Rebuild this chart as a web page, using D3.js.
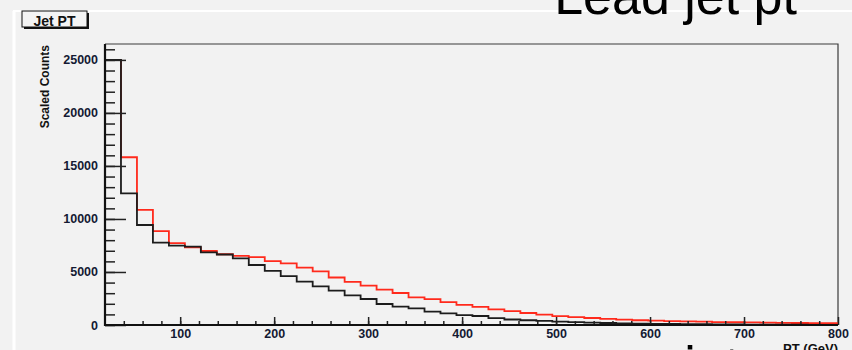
<!DOCTYPE html>
<html>
<head>
<meta charset="utf-8">
<script src="https://cdn.jsdelivr.net/npm/d3@7/dist/d3.min.js"></script>
<style>
  html, body { margin: 0; padding: 0; background: #f2f2f2; }
  svg { display: block; }
  text { font-family: "Liberation Sans", Arial, Helvetica, sans-serif; }
</style>
</head>
<body>
<svg id="chart" width="852" height="350"></svg>
<script>
// Histogram binning (GeV): fixed-width bins starting at the low edge
const binLow = 20;
const binWidth = 17;

// Jet pT histograms, scaled counts per bin
const blackCounts = [
  25000, 12420, 9430, 7770, 7480, 7400, 6850, 6650, 6290, 5660,
  5110, 4600, 4100, 3650, 3240, 2800, 2450, 1980, 1730, 1570,
  1260, 1100, 940, 850, 650, 520, 450, 380, 320, 270,
  230, 190, 160, 130, 110, 95, 80, 70, 60, 50,
  40, 35, 30, 25, 20, 20
];
const redCounts = [
  25000, 15820, 10850, 8850, 7720, 7320, 6980, 6670, 6510, 6400,
  6020, 5820, 5410, 5050, 4480, 4070, 3720, 3340, 3020, 2610,
  2440, 2150, 1890, 1700, 1480, 1300, 1130, 970, 830, 750,
  660, 570, 500, 450, 410, 370, 340, 310, 280, 260,
  240, 220, 200, 190, 180, 170
];

const xMajorTicks = [100, 200, 300, 400, 500, 600, 700, 800];
const yMajorTicks = [0, 5000, 10000, 15000, 20000, 25000];
const xRange = [20, 800];
const yRange = [0, 26500];

const titleText = "Jet PT";
const yTitle = "Scaled Counts";
const xTitle = "PT (GeV)";
const slideTitle = "Lead jet pt";
const slideTitleBelow = "jet pt";

const svg = d3.select("#chart");
const W = 852, H = 350;
const frame = { left: 105, right: 838, top: 44, bottom: 325 };

// canvas background with light bevel lines
svg.append("rect").attr("width", W).attr("height", H).attr("fill", "#f2f2f2");
svg.append("line").attr("x1", 13).attr("x2", W).attr("y1", 11).attr("y2", 11)
  .attr("stroke", "#ffffff").attr("stroke-width", 2);
svg.append("line").attr("x1", 14).attr("x2", 14).attr("y1", 11).attr("y2", H)
  .attr("stroke", "#ffffff").attr("stroke-width", 3);

const x = d3.scaleLinear().domain(xRange).range([frame.left, frame.right]);
const y = d3.scaleLinear().domain(yRange).range([frame.bottom, frame.top]);

// clip histograms to the frame
svg.append("defs").append("clipPath").attr("id", "plotClip")
  .append("rect")
  .attr("x", frame.left).attr("y", frame.top)
  .attr("width", frame.right - frame.left)
  .attr("height", frame.bottom - frame.top);

// frame top and right
svg.append("path")
  .attr("d", `M${frame.left},${frame.top}H${frame.right}V${frame.bottom}`)
  .attr("fill", "none").attr("stroke", "#3a3a3a").attr("stroke-width", 1.2);

// step outline of a histogram
function stepPoints(counts) {
  const pts = counts.map((c, i) => [binLow + i * binWidth, c]);
  pts.push([binLow + counts.length * binWidth, counts[counts.length - 1]]);
  return pts;
}
const stepLine = d3.line()
  .x(d => x(d[0]))
  .y(d => y(d[1]))
  .curve(d3.curveStepAfter);

const hist = svg.append("g").attr("clip-path", "url(#plotClip)");
hist.append("path")
  .attr("d", stepLine(stepPoints(redCounts)))
  .attr("fill", "none").attr("stroke", "#ff2a1c").attr("stroke-width", 1.8);
hist.append("path")
  .attr("d", stepLine(stepPoints(blackCounts)))
  .attr("fill", "none").attr("stroke", "#1c1c1c").attr("stroke-width", 1.8);

// y axis: major and minor ticks drawn inward
const yMinor = d3.range(0, yRange[1], 1000);
const yMinorAxis = d3.axisLeft(y).tickValues(yMinor).tickSize(-10).tickFormat("");
const yMajorAxis = d3.axisLeft(y).tickValues(yMajorTicks).tickSize(-21).tickPadding(7)
  .tickFormat(d3.format("d"));
const gy1 = svg.append("g").attr("transform", `translate(${frame.left},0)`).call(yMinorAxis);
const gy2 = svg.append("g").attr("transform", `translate(${frame.left},0)`).call(yMajorAxis);

// x axis
const xMinor = d3.range(40, xRange[1], 20);
const xMinorAxis = d3.axisBottom(x).tickValues(xMinor).tickSize(-4).tickFormat("");
const xMajorAxis = d3.axisBottom(x).tickValues(xMajorTicks).tickSize(-8).tickPadding(4)
  .tickFormat(d3.format("d"));
const gx1 = svg.append("g").attr("transform", `translate(0,${frame.bottom})`).call(xMinorAxis);
const gx2 = svg.append("g").attr("transform", `translate(0,${frame.bottom})`).call(xMajorAxis);

[gy1, gy2, gx1, gx2].forEach(g => {
  g.select(".domain").remove();
  g.selectAll(".tick line").attr("stroke", "#222").attr("stroke-width", 1.5);
  g.selectAll(".tick text")
    .attr("fill", "#141a33")
    .attr("font-size", 12.5)
    .attr("font-weight", "bold")
    .style("font-family", '"Liberation Sans", Arial, sans-serif');
});

// axis lines
svg.append("line").attr("x1", frame.left).attr("x2", frame.left)
  .attr("y1", frame.top).attr("y2", frame.bottom + 1)
  .attr("stroke", "#111").attr("stroke-width", 2.2);
svg.append("line").attr("x1", frame.left - 1).attr("x2", frame.right)
  .attr("y1", frame.bottom).attr("y2", frame.bottom)
  .attr("stroke", "#111").attr("stroke-width", 2.2);

// axis titles
svg.append("text")
  .attr("transform", `translate(49,${frame.top + 1}) rotate(-90)`)
  .attr("text-anchor", "end")
  .attr("font-size", 12)
  .attr("font-weight", "bold")
  .attr("fill", "#111")
  .text(yTitle);
svg.append("text")
  .attr("x", frame.right).attr("y", 352.5)
  .attr("text-anchor", "end")
  .attr("font-size", 13)
  .attr("font-weight", "bold")
  .attr("fill", "#111")
  .text(xTitle);

// histogram title box with shadow
svg.append("rect").attr("x", 24).attr("y", 13).attr("width", 65).attr("height", 16)
  .attr("fill", "#111");
svg.append("rect").attr("x", 22).attr("y", 11).attr("width", 65).attr("height", 16)
  .attr("fill", "#f4f4f4").attr("stroke", "#111").attr("stroke-width", 1);
svg.append("text")
  .attr("x", 54.5).attr("y", 25.5)
  .attr("text-anchor", "middle")
  .attr("font-size", 14)
  .attr("font-weight", "bold")
  .attr("fill", "#111")
  .text(titleText);

// slide headings
svg.append("text")
  .attr("x", 797).attr("y", 14)
  .attr("text-anchor", "end")
  .attr("font-size", 52)
  .attr("fill", "#000")
  .text(slideTitle);
svg.append("text")
  .attr("x", 797).attr("y", 383)
  .attr("text-anchor", "end")
  .attr("font-size", 52)
  .attr("fill", "#000")
  .text(slideTitleBelow);
</script>
</body>
</html>
